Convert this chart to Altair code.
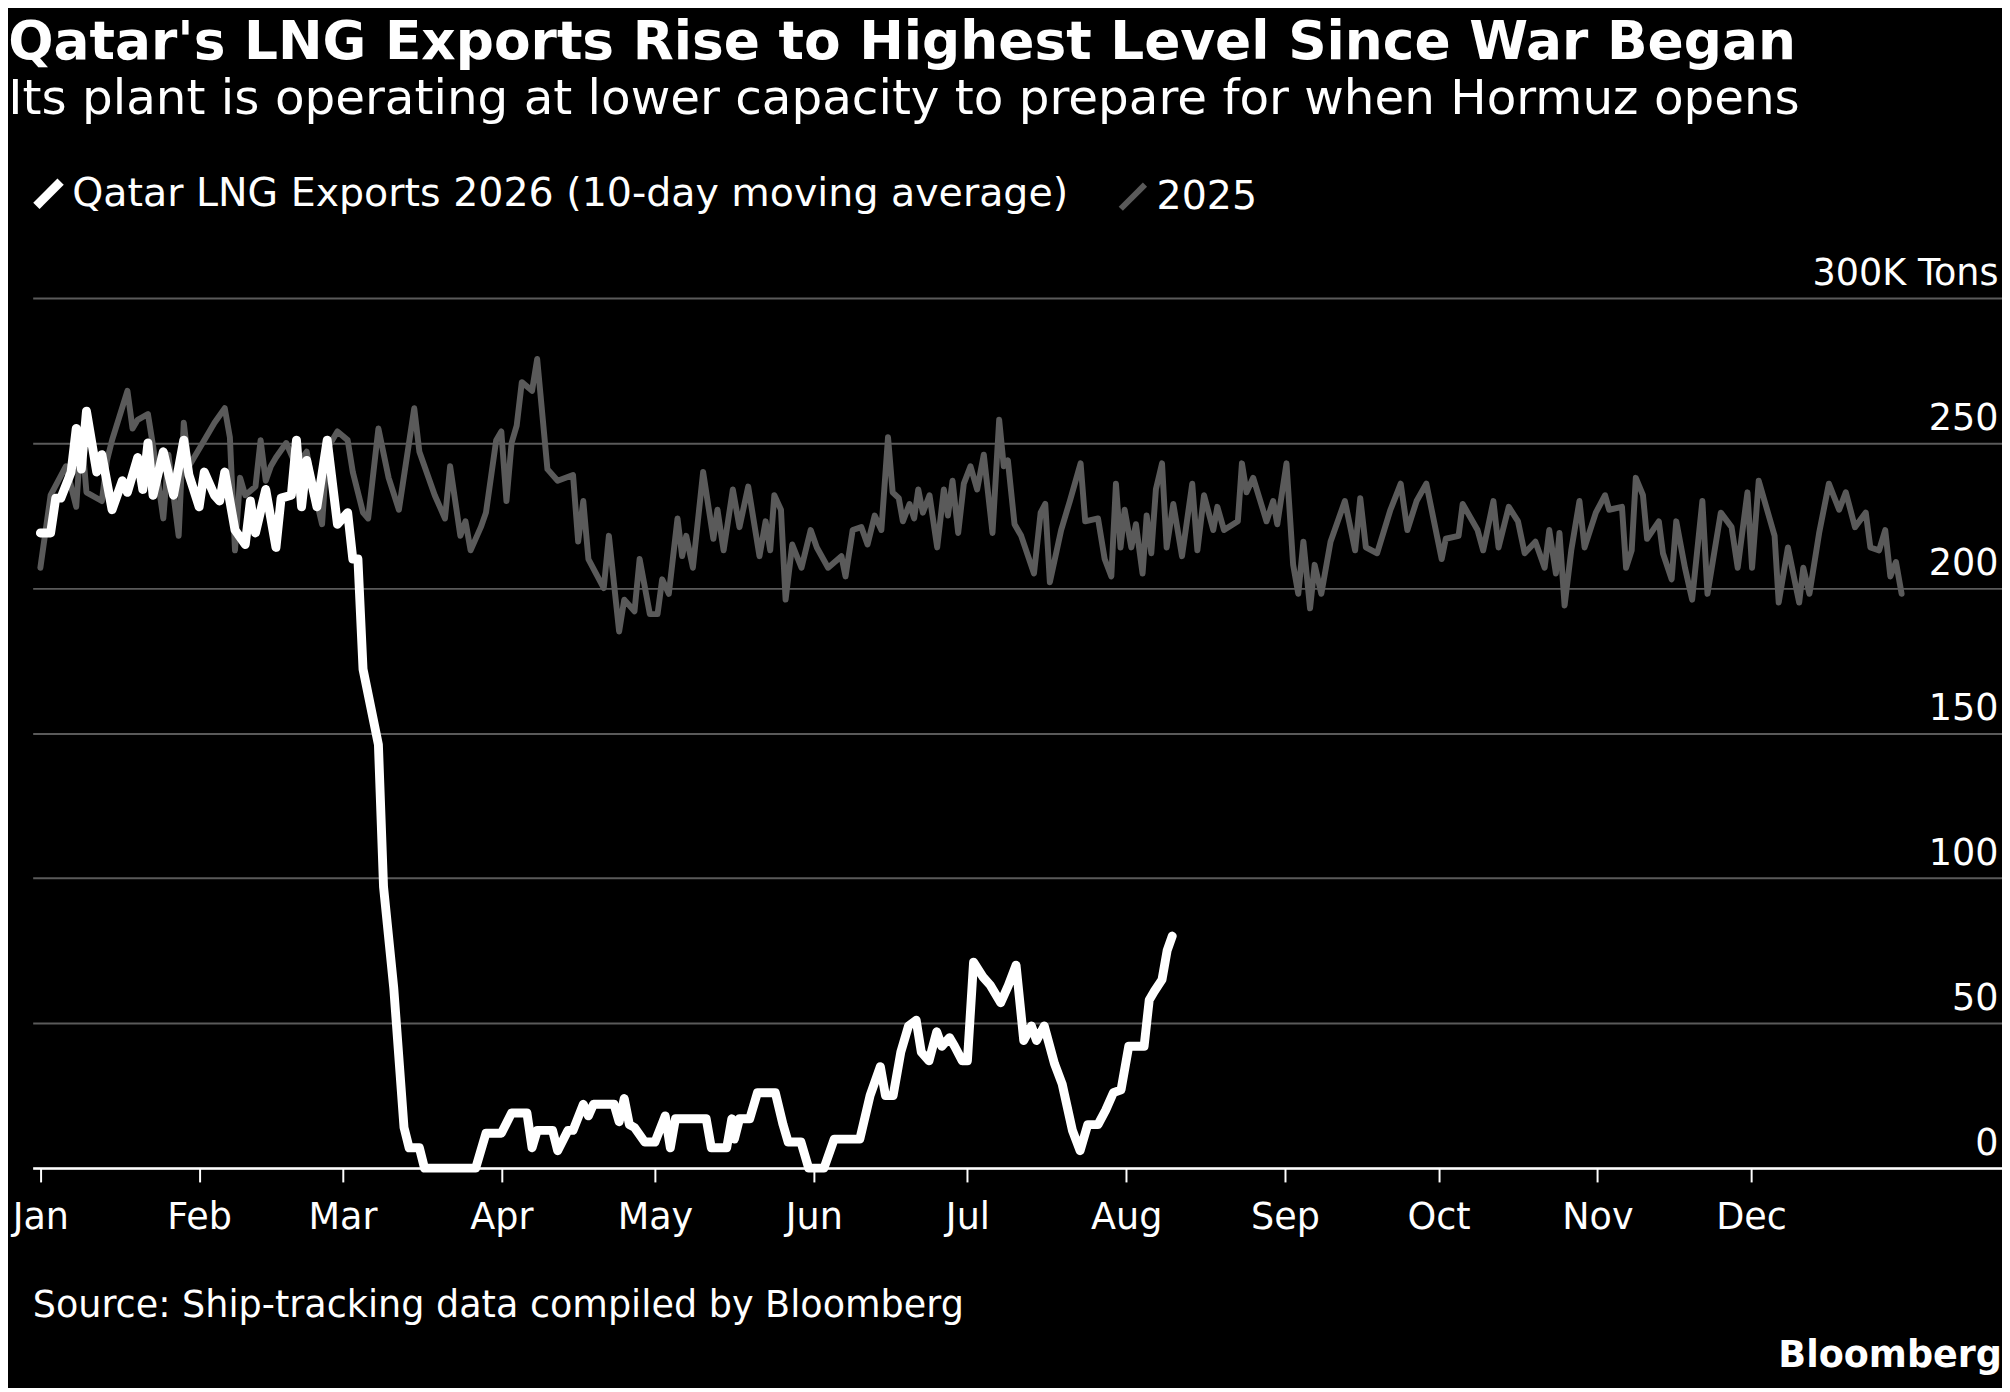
import altair as alt
import pandas as pd

# Day-of-year (0 = Jan 1) and values (thousand tons)
days_2026 = [0,2,3,4,6,7,8,9,11,12,14,16,17,19,20,21,22,24,26,28,29,31,32,34,35,36,38,40,41,42,44,46,47,49,50,51,52,54,56,58,60,61,62,
             63,66,67,69,71,72,74,75,85,87,90,92,95,96,97,100,101,103,104,106,107,108,112,113,114,115,116,118,120,122,123,124,130,131,134,
             135,135.5,136.5,138.5,140,143.5,145,146,148.5,150,153,155,160,162,164,165,166.5,168,169.5,171,172,173.5,175,176,177.5,178.5,
             180,181,182.2,184,185.5,187.5,189,190.5,192,193.5,194.5,196,198,199.5,201.5,203,204.5,206.5,208,209.5,211,212.5,215.5,216.5,217.5,219,220,221]
vals_2026 = [219,219,231,231,240,255,241,261,240,246,227,237,233,245,234,250,232,247,232,251,239,228,240,232,230,240,220,215,230,219,234,214,231,232,251,228,244,228,251,222,226,210,210,
             172,146,97,62,14,7,7,0,0,12,12,19,19,7,13,13,6,13,13,22,18,22,22,16,24,15,14,9,9,18,7,17,17,7,7,
             17,10,17,17,26,26,15,9,9,0,0,10,10,25,35,25,25,40,49,51,40,37,47,42,45,42,
             37,37,71,66,63,57,63,70,44,49,44,49,36,29,13,6,15,15,20,26,27,42,42,58,61,65,75,80]

days_2025 = [0,2,5,7,8,9,12,13,14,17,18,19,21,22,24,25,27,28,29,32,34,36,37,38,39,40,42,43,44,45,46,48,50,52,53,55,56,58,60,61,63,64,66,68,70,73,74,77,79,80,82,83,84,86,87,89,90,91,92,93,94,96,97,99,101,104,105,106,107,110,111,113,114,116,117,119,
             120.5,121.4,122.7,124.4,125.3,126.1,127.4,129.4,131.4,132.2,133.4,135.2,136.5,138.2,140.4,141.6,142.5,143.3,144.6,145.5,146.8,148.6,150.4,151.6,153.8,156.4,157.2,158.6,160.3,161.5,162.9,164.2,165.5,166.4,167.6,168.4,169.7,170.6,171.4,172.3,173.6,175.1,176.4,177.2,178.1,179.2,180.3,181.6,182.9,184.2,185.9,187.2,188.1,188.9,190.2,191.5,194,195.3,196.2,197.1,199.3,201,203.1,204,206.5,207.8,209.1,210,210.9,211.7,213,213.9,215.2,216,216.9,217.8,219,219.9,221.2,222.9,224.9,225.9,227.2,229,229.8,231.1,233.8,234.6,235.5,236.8,239.4,240.7,241.5,243.3,244.6,245.6,246.6,247.9,248.8,250.1,251.9,254.7,256.7,257.7,258.8,261,263.6,265.6,266.9,268.7,270.6,273.6,274.4,276.9,277.7,280.6,281.7,283.7,284.7,286.7,288.5,289.8,291.9,293.7,294.6,295.9,296.6,297.6,298.9,300.5,301.5,303.7,305.5,306.3,308.8,309.6,310.7,311.5,312.9,313.7,316,316.8,318.5,319.4,321.1,322.5,324.5,325.5,328.1,330.2,331.4,333.3,334.2,335.5,338.6,339.4,341.2,343.4,344.2,345.4,347.3,349.2,351.2,352.5,354.3,356.4,357.3,359,360.2,361.2,362.3,363.4]
vals_2025 = [207,232,242,228,254,233,230,244,251,268,255,258,260,249,224,246,218,257,242,251,257,262,252,213,238,232,235,251,237,242,245,250,242,247,237,222,248,254,251,240,226,224,255,238,227,262,247,232,224,242,218,223,213,221,226,251,254,230,250,256,271,268,279,241,237,239,216,230,210,200,218,185,196,192,210,191,
             191,203,198,224,211,218,207,240,217,227,213,234,221,235,211,223,213,232,227,196,215,207,220,214,207,211,204,220,221,215,225,220,252,233,231,223,229,224,234,226,232,214,234,225,237,219,236,242,234,246,219,258,242,244,222,218,205,226,229,202,220,230,243,223,224,210,204,236,214,227,214,222,205,225,212,234,243,214,229,211,236,213,232,220,228,220,223,243,233,238,223,230,222,243,208,198,216,193,208,198,216,230,213,231,214,212,227,236,220,230,236,210,217,218,229,220,213,230,214,228,223,212,216,207,220,205,219,194,213,230,214,226,232,227,228,207,213,238,232,217,223,212,203,223,207,196,230,198,226,221,207,233,207,237,218,195,214,195,207,198,219,236,227,233,221,226,214,213,220,204,209,198]

month_days = [0,31,59,90,120,151,181,212,243,273,304,334]
month_names = ["Jan","Feb","Mar","Apr","May","Jun","Jul","Aug","Sep","Oct","Nov","Dec"]
y_ticks = [0,50,100,150,200,250,300]

S26 = "Qatar LNG Exports 2026 (10-day moving average)"
df = pd.concat([
    pd.DataFrame({"day": days_2025, "value": vals_2025, "series": "2025"}),
    pd.DataFrame({"day": days_2026, "value": vals_2026, "series": S26}),
])

FONT = "DejaVu Sans"
W, H = 1994, 881
label_expr = "{" + ",".join(f"'{d}':'{n}'" for d, n in zip(month_days, month_names)) + "}[datum.value]"

x = alt.X("day:Q", scale=alt.Scale(domain=[-1.5, 383], nice=False, zero=False),
          axis=alt.Axis(values=month_days, labelExpr=label_expr, grid=False, domain=True,
                        domainColor="white", domainWidth=2.5, ticks=True, tickColor="white",
                        tickSize=14, tickWidth=2, labelColor="white", labelFontSize=37,
                        labelFont=FONT, labelPadding=18, title=None))
y = alt.Y("value:Q", scale=alt.Scale(domain=[0, 300], nice=False),
          axis=alt.Axis(values=y_ticks, orient="right", grid=True, gridColor="#5a5a5a", gridWidth=2,
                        domain=False, ticks=False, labelAlign="right", labelBaseline="bottom",
                        labelOffset=-6, labelPadding=-4, labelColor="white", labelFontSize=37,
                        labelLimit=600,
                        labelFont=FONT, labelExpr="datum.value == 300 ? '300K Tons' : datum.value",
                        title=None))

lines = alt.Chart(df).mark_line(strokeJoin="round", strokeCap="round").encode(
    x=x, y=y, order="day:Q",
    color=alt.Color("series:N",
                    scale=alt.Scale(domain=[S26, "2025"], range=["#ffffff", "#5a5a5a"]),
                    legend=alt.Legend(orient="none", legendX=-4, legendY=-126, direction="horizontal",
                                      title=None, symbolType="M-1,1L1,-1", symbolStrokeWidth=7,
                                      symbolSize=600, labelColor="white", labelFontSize=40,
                                      labelFont=FONT, columnPadding=40, labelLimit=1400)),
    strokeWidth=alt.StrokeWidth("series:N",
                                scale=alt.Scale(domain=[S26, "2025"], range=[9, 6]), legend=None),
)

source = alt.Chart(pd.DataFrame({"t": ["Source: Ship-tracking data compiled by Bloomberg"]})).mark_text(
    align="left", baseline="middle", color="white", fontSize=37, font=FONT
).encode(text="t:N", x=alt.value(0), y=alt.value(H + 140))

brand = alt.Chart(pd.DataFrame({"t": ["Bloomberg"]})).mark_text(
    align="right", baseline="middle", color="white", fontSize=37, font=FONT, fontWeight="bold"
).encode(text="t:N", x=alt.value(W), y=alt.value(H + 190))

chart = alt.layer(lines, source, brand).properties(
    width=W, height=H,
    title=alt.TitleParams(
        text="Qatar's LNG Exports Rise to Highest Level Since War Began",
        subtitle="Its plant is operating at lower capacity to prepare for when Hormuz opens",
        anchor="start", color="white", subtitleColor="white", font=FONT, subtitleFont=FONT,
        fontSize=54, fontWeight="bold", subtitleFontSize=49, subtitlePadding=6, offset=50, dx=-4),
    background="black", padding={"left": 0, "top": 0, "right": 0, "bottom": 6},
).configure_view(strokeWidth=0)

chart.save("out.html", embed_options={"renderer": "svg", "actions": False})
